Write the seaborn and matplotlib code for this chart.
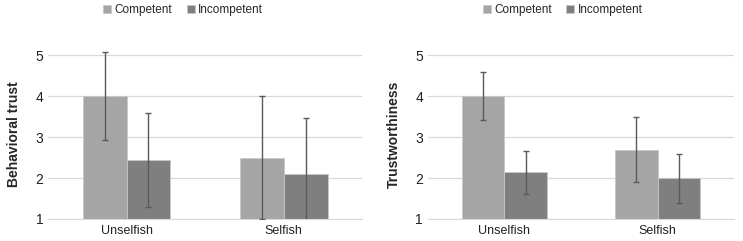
import matplotlib
matplotlib.use("Agg")
import matplotlib.pyplot as plt
import seaborn as sns
import pandas as pd

# Data
conditions = ["Unselfish", "Selfish"]
groups = ["Competent", "Incompetent"]

trust_mean = {"Competent": [4.0, 2.49], "Incompetent": [2.44, 2.1]}
trust_err = {"Competent": [1.07, 1.5], "Incompetent": [1.15, 1.37]}

worthy_mean = {"Competent": [4.0, 2.69], "Incompetent": [2.14, 1.99]}
worthy_err = {"Competent": [0.58, 0.79], "Incompetent": [0.52, 0.59]}

palette_colors = {"Competent": "#A5A5A5", "Incompetent": "#7F7F7F"}

sns.set_style("white")
plt.rcParams['font.family'] = ['Liberation Sans', 'DejaVu Sans']


def to_frame(means):
    rows = []
    for g in groups:
        for c, v in zip(conditions, means[g]):
            rows.append({"condition": c, "group": g, "value": v})
    return pd.DataFrame(rows)


def draw_panel(ax, means, errs, ylabel, legend_x):
    df = to_frame(means)
    sns.barplot(data=df, x="condition", y="value", hue="group", order=conditions,
                hue_order=groups, palette=palette_colors, errorbar=None,
                width=0.56, edgecolor="#C8C8C8", linewidth=0.6, ax=ax)
    # error bars at bar centres
    for container, g in zip(ax.containers, groups):
        for bar, e in zip(container, errs[g]):
            xc = bar.get_x() + bar.get_width() / 2
            ax.errorbar(xc, bar.get_height(), yerr=e, fmt="none",
                        ecolor="#5A5A5A", elinewidth=1.0, capsize=2.5,
                        capthick=1.0, zorder=5)
    ax.set_ylim(1, 5.15)
    ax.set_yticks([1, 2, 3, 4, 5])
    ax.set_xlim(-0.5, 1.5)
    ax.yaxis.grid(True, color="#D9D9D9", linewidth=0.9)
    ax.set_axisbelow(True)
    for s in ["top", "right", "left"]:
        ax.spines[s].set_visible(False)
    ax.spines["bottom"].set_color("#D9D9D9")
    ax.tick_params(axis="both", length=0, labelsize=10, colors="#222222")
    ax.tick_params(axis="x", labelsize=9, pad=4)
    ax.set_xlabel("")
    ax.set_ylabel(ylabel, fontsize=10, fontweight="bold", labelpad=10)
    ax.legend(loc="center", bbox_to_anchor=(legend_x, 1.23), ncol=2,
              frameon=False, fontsize=8.5, handlelength=0.7, handleheight=0.7,
              handletextpad=0.3, columnspacing=1.2)


fig = plt.figure(figsize=(7.43, 2.41), dpi=100)
ax1 = fig.add_axes([0.0646, 0.0913, 0.4227, 0.7057])
ax2 = fig.add_axes([0.576, 0.0913, 0.412, 0.7057])

draw_panel(ax1, trust_mean, trust_err, "Behavioral trust", 0.43)
draw_panel(ax2, worthy_mean, worthy_err, "Trustworthiness", 0.44)

fig.savefig("out.png", dpi=100)
